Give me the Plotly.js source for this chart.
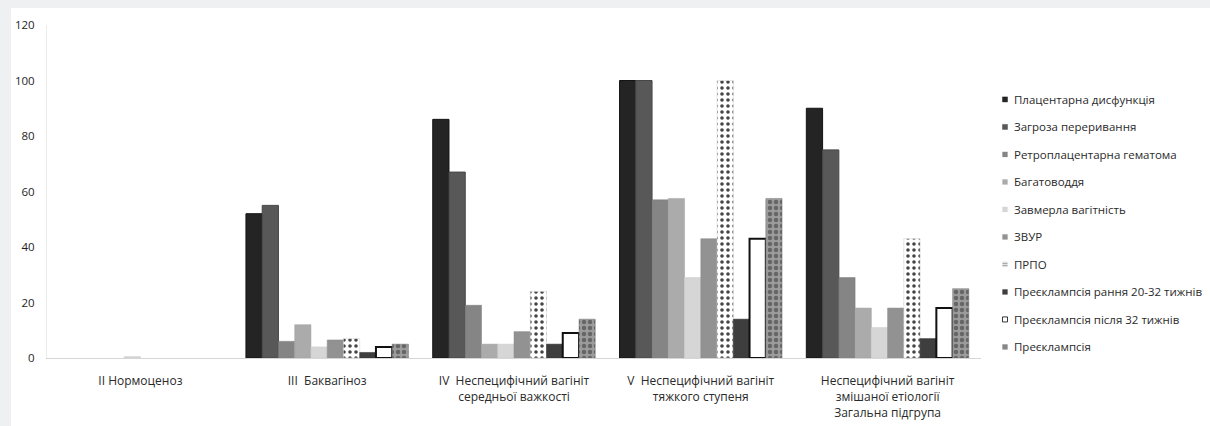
<!DOCTYPE html>
<html>
<head>
<meta charset="utf-8">
<script src="https://cdn.plot.ly/plotly-3.0.1.min.js"></script>
<style>
  html, body { margin: 0; padding: 0; background: #eef0f2; }
  #chart { position: absolute; left: 11px; top: 8px; width: 1199px; height: 418px; background: #ffffff; }
  /* small square swatches in the legend, placed just before the text */
  #chart .legend .legendpoints path { transform: translate(31px, 0px) scale(0.42); }
</style>
</head>
<body>
<div id="chart"></div>
<script>
// Groups on the x axis
const categories = [
  "II Нормоценоз",
  "III  Баквагіноз",
  "IV  Неспецифічний вагініт<br>середньої важкості",
  "V  Неспецифічний вагініт<br>тяжкого ступеня",
  "Неспецифічний вагініт<br>змішаної етіології<br>Загальна підгрупа"
];

// Series names (legend order)
const seriesNames = [
  "Плацентарна дисфункція",
  "Загроза переривання",
  "Ретроплацентарна гематома",
  "Багатоводдя",
  "Завмерла вагітність",
  "ЗВУР",
  "ПРПО",
  "Преєклампсія рання 20-32 тижнів",
  "Преєклампсія після 32 тижнів",
  "Преєклампсія"
];

// Values per series, one entry per group
const placentalDysfunction = [0, 52, 86, 100, 90];
const threatOfTermination  = [0, 55, 67, 100, 75];
const retroplacentalHematoma = [0, 6, 19, 57, 29];
const polyhydramnios       = [0, 12, 5, 57.5, 18];
const missedPregnancy      = [0.5, 4, 5, 29, 11];
const fetalGrowthRestriction = [0, 6.5, 9.5, 43, 18];
const prom                 = [0, 7, 24, 100, 43];
const preeclampsiaEarly    = [0, 2, 5, 14, 7];
const preeclampsiaLate     = [0, 4, 9, 43, 18];
const preeclampsia         = [0, 5, 14, 57.5, 25];

const yTicks = [0, 20, 40, 60, 80, 100, 120];

const seriesValues = [
  placentalDysfunction, threatOfTermination, retroplacentalHematoma,
  polyhydramnios, missedPregnancy, fetalGrowthRestriction, prom,
  preeclampsiaEarly, preeclampsiaLate, preeclampsia
];

// Fill styles for each series
const styles = [
  { color: "#242424", line: { color: "#151515", width: 1 } },
  { color: "#585858", line: { color: "#474747", width: 1 } },
  { color: "#858585", line: { color: "#7a7a7a", width: 0.5 } },
  { color: "#ababab", line: { color: "#a0a0a0", width: 0.5 } },
  { color: "#d6d6d6", line: { color: "#cccccc", width: 0.5 } },
  { color: "#929292", line: { color: "#888888", width: 0.5 } },
  { color: "#ffffff", line: { color: "#d0d0d0", width: 0.5 },
    pattern: { shape: ".", fgcolor: "#444444", bgcolor: "#ffffff", size: 6, solidity: 0.28 } },
  { color: "#3e3e3e", line: { color: "#2e2e2e", width: 0.5 } },
  { color: "#ffffff", line: { color: "#111111", width: 2 } },
  { color: "#8a8a8a", line: { color: "#7a7a7a", width: 0.5 },
    pattern: { shape: ".", fgcolor: "#666666", bgcolor: "#9c9c9c", size: 6, solidity: 0.45 } }
];

// Zero values are left out so no outline is drawn on the axis
const traces = seriesNames.map((name, i) => ({
  type: "bar",
  name: name,
  x: categories,
  y: seriesValues[i].map(v => (v === 0 ? null : v)),
  marker: styles[i],
  legendgroup: "g" + i,
  hoverinfo: "x+y+name"
}));

const font = "Open Sans, Liberation Sans, sans-serif";

const layout = {
  width: 1199,
  height: 418,
  paper_bgcolor: "#ffffff",
  plot_bgcolor: "#ffffff",
  margin: { l: 36, r: 229, t: 17, b: 68, autoexpand: false },
  barmode: "group",
  bargap: 0.13,
  bargroupgap: 0,
  font: { family: font, size: 12, color: "#2a2a2a" },
  xaxis: {
    type: "category",
    showgrid: false,
    showline: true,
    linecolor: "#d6d6d6",
    linewidth: 1,
    ticks: "",
    tickangle: 0,
    ticklabelstandoff: 12,
    tickfont: { family: font, size: 12, color: "#2a2a2a" }
  },
  yaxis: {
    range: [0, 120],
    tickvals: yTicks,
    showgrid: false,
    zeroline: false,
    showline: true,
    linecolor: "#ececec",
    ticks: "",
    ticklabelstandoff: 9,
    tickfont: { family: font, size: 11.5, color: "#1e1e1e" }
  },
  showlegend: true,
  legend: {
    x: 0.9925,
    xanchor: "left",
    y: 0.82,
    yanchor: "top",
    traceorder: "grouped",
    tracegroupgap: 8.5,
    itemwidth: 30,
    font: { family: font, size: 11.5, color: "#2a2a2a" },
    bgcolor: "rgba(0,0,0,0)"
  }
};

Plotly.newPlot("chart", traces, layout, { displayModeBar: false, staticPlot: true });
</script>
</body>
</html>
